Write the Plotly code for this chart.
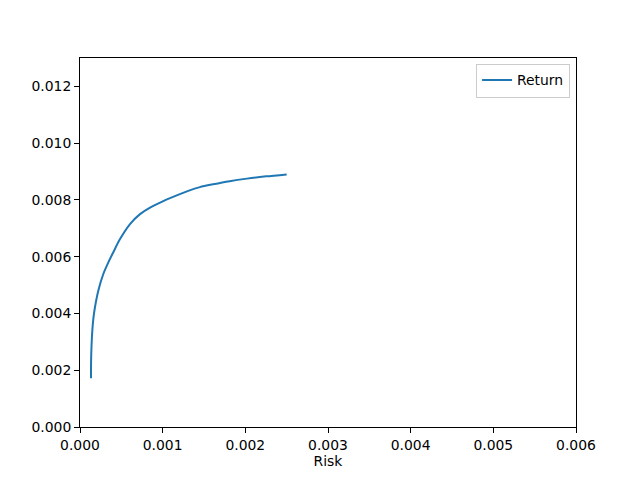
import plotly.graph_objects as go

risk = [0.000133, 0.000134, 0.000138, 0.000149, 0.000163, 0.000181, 0.000222, 0.000282, 0.000343, 0.000400,
        0.000484, 0.000605, 0.000726, 0.000847, 0.001008, 0.00117, 0.00131, 0.00145, 0.00161, 0.00181,
        0.00202, 0.00225, 0.0025]
ret = [0.00172, 0.00230, 0.00275, 0.00340, 0.00385, 0.00422, 0.00481, 0.00539, 0.00580, 0.00614,
       0.00662, 0.00715, 0.00750, 0.00773, 0.00796, 0.00816, 0.00832, 0.00845, 0.00855, 0.00866,
       0.00875, 0.00883, 0.00890]

font = dict(family="DejaVu Sans", size=13.9, color="black")

fig = go.Figure()
fig.add_trace(go.Scatter(x=risk, y=ret, mode="lines", name="Return",
                         line=dict(color="#1f77b4", width=2, shape="spline", smoothing=0.8)))

axis_common = dict(showgrid=False, zeroline=False, showline=True, linecolor="black", linewidth=1,
                   mirror=True, ticks="outside", ticklen=4.9, tickwidth=1, tickcolor="black",
                   tickfont=font)
fig.update_xaxes(range=[0, 0.006], dtick=0.001, tickformat=".3f",
                 title=dict(text="Risk", font=font, standoff=4), **axis_common)
fig.update_yaxes(range=[0, 0.013], tickvals=[0, 0.002, 0.004, 0.006, 0.008, 0.010, 0.012],
                 tickformat=".3f", **axis_common)

fig.update_layout(width=640, height=480, plot_bgcolor="white", paper_bgcolor="white",
                  margin=dict(l=72, r=72, t=50, b=61, autoexpand=False),
                  showlegend=True,
                  legend=dict(x=0.988, y=0.985, xanchor="right", yanchor="top", bgcolor="white",
                              bordercolor="#cccccc", borderwidth=1, font=font))
fig.write_html("out.html")
